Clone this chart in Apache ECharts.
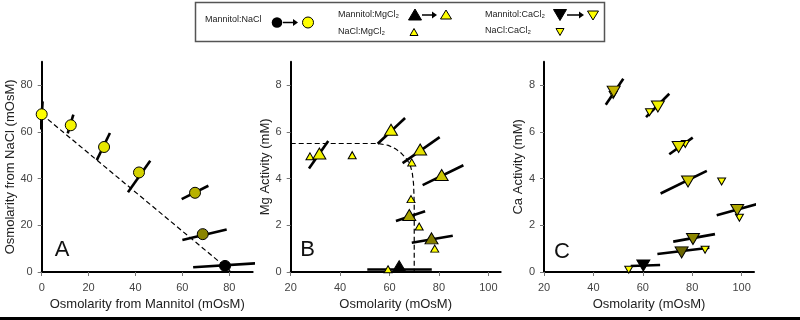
<!DOCTYPE html>
<html>
<head>
<meta charset="utf-8">
<script src="https://cdn.jsdelivr.net/npm/echarts@6/dist/echarts.min.js"></script>
<style>
  html, body { margin: 0; padding: 0; background: #fff; }
  #chart { width: 800px; height: 320px; }
</style>
</head>
<body>
<div id="chart"></div>
<script>
// panel A: Mannitol:NaCl mixtures (x = mannitol mOsM, y = NaCl mOsM)
var aPoints = [[0, 67.5], [12.4, 62.8], [26.6, 53.5], [41.5, 42.6], [65.4, 33.9], [68.7, 16.2], [78.2, 2.6]];
var aBars = [
  [[0.4, 73], [-0.4, 61]],
  [[13.5, 67.4], [11.1, 59.3]],
  [[29.1, 59.5], [23.5, 47.9]],
  [[46.3, 47.6], [36.8, 34.1]],
  [[71.1, 36.9], [59.7, 31.2]],
  [[78.9, 18.2], [60, 13.7]],
  [[91, 3.7], [64.6, 2.0]]
];
var aLine = [[0, 67.5], [81, 0]];

// panel B: Mg activity
var bBig = [[31.6, 5.07], [60.6, 6.09], [72.4, 5.24], [81.1, 4.15], [68.0, 2.44], [77.0, 1.44], [63.9, 0.25]];
var bSmall = [[27.8, 4.95], [44.9, 5.0], [69.0, 4.69], [68.7, 3.12], [72.0, 1.95], [78.3, 1.0], [59.4, 0.12]];
var bBars = [
  [[35.2, 5.61], [27.4, 4.43]],
  [[66.3, 6.59], [55.2, 5.49]],
  [[80.3, 5.77], [65.3, 4.66]],
  [[89.9, 4.57], [73.4, 3.72]],
  [[74.4, 2.6], [62.6, 2.18]],
  [[85.6, 1.55], [69.0, 1.25]],
  [[77.1, 0.12], [51.0, 0.13]]
];
var bLine = [[20, 5.5], [55.5, 5.5], [59.5, 5.42], [62.5, 5.27], [64.9, 5.07], [66.8, 4.85], [68.3, 4.6],
  [69.2, 4.25], [69.7, 3.8], [69.9, 3.3], [70, 2.8], [70, 0]];

// panel C: Ca activity
var cBig = [[48.2, 7.72], [66.1, 7.08], [74.5, 5.35], [78.3, 3.87], [98.2, 2.65], [80.3, 1.41], [75.7, 0.84], [60.2, 0.28]];
var cSmall = [[48.0, 7.58], [62.7, 6.84], [77.2, 5.48], [91.9, 3.87], [99.1, 2.32], [85.2, 0.95], [54.3, 0.1]];
var cBars = [
  [[52.1, 8.27], [45, 7.16]],
  [[70.7, 7.63], [61.3, 6.63]],
  [[80.2, 5.75], [70.7, 5.04]],
  [[85.9, 4.33], [67.2, 3.36]],
  [[106, 2.9], [89.9, 2.43]],
  [[89.2, 1.62], [72.3, 1.30]],
  [[86.9, 1.04], [65.9, 0.77]],
  [[67, 0.3], [55.1, 0.26]]
];

var aTicks = [0, 20, 40, 60, 80];
var osmTicks = [20, 40, 60, 80, 100];
var actTicks = [0, 2, 4, 6, 8];

// fill shades, yellow -> olive -> black as mannitol share rises
var aShades = ['#ffff00', '#f4f400', '#e6e600', '#d4d200', '#b8b200', '#8a8400', '#000000'];
var bShades = ['#f2f200', '#f5f500', '#e4e000', '#ccc600', '#aaa400', '#847e00', '#000000'];
var cShades = ['#c4b400', '#f2f200', '#e6e200', '#d0c800', '#aea600', '#8c8600', '#6a6500', '#000000'];

var FONT = 'Liberation Sans';

function axisX(idx, min, max, ticks, name) {
  return {
    type: 'value', gridIndex: idx, min: min, max: max,
    name: name, nameLocation: 'middle', nameGap: 25,
    nameTextStyle: { fontFamily: FONT, fontSize: 13, color: '#222' },
    axisLine: { show: true, onZero: false, lineStyle: { color: '#000', width: 2 } },
    axisTick: { show: true, length: 4, customValues: ticks, lineStyle: { color: '#777' } },
    axisLabel: { customValues: ticks, margin: 10, fontFamily: FONT, fontSize: 11, color: '#444' },
    splitLine: { show: false }
  };
}
function axisY(idx, min, max, ticks, name, gap) {
  return {
    type: 'value', gridIndex: idx, min: min, max: max,
    name: name, nameLocation: 'middle', nameGap: gap,
    nameTextStyle: { fontFamily: FONT, fontSize: 13, color: '#222' },
    axisLine: { show: true, onZero: false, lineStyle: { color: '#000', width: 2 } },
    axisTick: { show: true, length: 4, customValues: ticks, lineStyle: { color: '#777' } },
    axisLabel: { customValues: ticks, margin: 9, fontFamily: FONT, fontSize: 11, color: '#444' },
    splitLine: { show: false }
  };
}

function bars(segs, idx) {
  return {
    type: 'lines', coordinateSystem: 'cartesian2d', xAxisIndex: idx, yAxisIndex: idx,
    clip: true, silent: true, z: 3,
    lineStyle: { color: '#000', width: 2.6, opacity: 1 },
    data: segs.map(function (s) { return { coords: s }; })
  };
}
function dashed(pts, idx) {
  return {
    type: 'line', xAxisIndex: idx, yAxisIndex: idx, data: pts, showSymbol: false,
    symbol: 'none', silent: true, z: 2, clip: true,
    lineStyle: { color: '#000', width: 1.2, type: [5, 3] }
  };
}
function marks(pts, shades, idx, symbol, size, rotate) {
  return {
    type: 'scatter', xAxisIndex: idx, yAxisIndex: idx, symbol: symbol, symbolSize: size,
    symbolRotate: rotate || 0, z: 5, silent: true,
    itemStyle: { borderColor: '#000', borderWidth: 1, opacity: 1 },
    data: pts.map(function (p, i) {
      return { value: p, itemStyle: { color: shades ? shades[i] : '#ffff00' } };
    })
  };
}

// legend glyph helpers (drawn as graphics)
function tri(cx, cy, w, h, down, fill) {
  var pts = down
    ? [[cx - w / 2, cy - h / 2], [cx + w / 2, cy - h / 2], [cx, cy + h / 2]]
    : [[cx - w / 2, cy + h / 2], [cx + w / 2, cy + h / 2], [cx, cy - h / 2]];
  return { type: 'polygon', shape: { points: pts }, style: { fill: fill, stroke: '#000', lineWidth: 1 } };
}
function arrow(x1, x2, y) {
  return [
    { type: 'line', shape: { x1: x1, y1: y, x2: x2 - 4, y2: y }, style: { stroke: '#000', lineWidth: 1.5 } },
    { type: 'polygon', shape: { points: [[x2 - 5, y - 3.5], [x2, y], [x2 - 5, y + 3.5]] }, style: { fill: '#000' } }
  ];
}
function txt(x, y, s, size) {
  return { type: 'text', x: x, y: y, style: { text: s, fontFamily: FONT, fontSize: size, fill: '#222', verticalAlign: 'middle' } };
}

var graphics = [
  { type: 'rect', shape: { x: 195.5, y: 2.5, width: 409, height: 39 }, style: { fill: '#fff', stroke: '#555', lineWidth: 1.5 } },
  txt(205, 20, 'Mannitol:NaCl', 9),
  { type: 'circle', shape: { cx: 277, cy: 22.5, r: 5.3 }, style: { fill: '#000' } },
  { type: 'circle', shape: { cx: 308, cy: 22.5, r: 5.5 }, style: { fill: '#ffff00', stroke: '#000', lineWidth: 1 } },
  txt(338, 15, 'Mannitol:MgCl\u2082', 9),
  txt(338, 32, 'NaCl:MgCl\u2082', 9),
  tri(415, 14.5, 13, 11, false, '#000'),
  tri(446, 14.5, 11, 9, false, '#ffff00'),
  tri(414, 32, 8, 7, false, '#ffff00'),
  txt(485, 15, 'Mannitol:CaCl\u2082', 9),
  txt(485, 30.5, 'NaCl:CaCl\u2082', 9),
  tri(560, 15, 13, 11, true, '#000'),
  tri(593, 15.5, 11, 9, true, '#ffff00'),
  tri(560, 32, 8, 7, true, '#ffff00'),
  { type: 'text', x: 62, y: 250, style: { text: 'A', fontFamily: FONT, fontSize: 22, fill: '#111', align: 'center', verticalAlign: 'middle' } },
  { type: 'text', x: 307.5, y: 250, style: { text: 'B', fontFamily: FONT, fontSize: 22, fill: '#111', align: 'center', verticalAlign: 'middle' } },
  { type: 'text', x: 562, y: 252, style: { text: 'C', fontFamily: FONT, fontSize: 22, fill: '#111', align: 'center', verticalAlign: 'middle' } },
  { type: 'rect', shape: { x: 0, y: 317, width: 800, height: 3 }, style: { fill: '#000' } }
].concat(arrow(283, 298, 22.5), arrow(422, 437, 15), arrow(567, 584, 15));

var option = {
  animation: false,
  backgroundColor: '#fff',
  grid: [
    { left: 41.7, top: 61.7, width: 211, height: 210.3 },
    { left: 290.7, top: 61.7, width: 210, height: 210.3 },
    { left: 544, top: 61.7, width: 210, height: 210.3 }
  ],
  xAxis: [
    axisX(0, 0, 90, aTicks, 'Osmolarity from Mannitol (mOsM)'),
    axisX(1, 20, 105, osmTicks, 'Osmolarity (mOsM)'),
    axisX(2, 20, 105, osmTicks, 'Osmolarity (mOsM)')
  ],
  yAxis: [
    axisY(0, 0, 90, aTicks, 'Osmolarity from NaCl (mOsM)', 24),
    axisY(1, 0, 9, actTicks, 'Mg Activity (mM)', 15),
    axisY(2, 0, 9, actTicks, 'Ca Activity (mM)', 17)
  ],
  graphic: graphics,
  series: [
    dashed(aLine, 0),
    bars(aBars, 0),
    marks(aPoints, aShades, 0, 'circle', 11),
    dashed(bLine, 1),
    bars(bBars, 1),
    marks(bSmall, null, 1, 'triangle', [8, 7]),
    marks(bBig, bShades, 1, 'triangle', [13, 11]),
    bars(cBars, 2),
    marks(cSmall, null, 2, 'triangle', [8, 7], 180),
    marks(cBig, cShades, 2, 'triangle', [13, 11], 180)
  ]
};

var chart = echarts.init(document.getElementById('chart'));
chart.setOption(option);
window.onresize = chart.resize;
</script>
</body>
</html>
